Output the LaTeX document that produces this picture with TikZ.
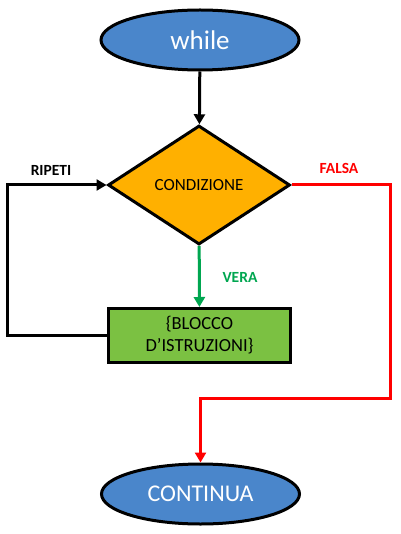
\documentclass[tikz,border=0pt]{standalone}
\usepackage{fontspec}
\setmainfont{Carlito}
\usepackage{xcolor}
\usetikzlibrary{shapes.geometric, arrows.meta, positioning}

\definecolor{termblue}{HTML}{4A86CB}
\definecolor{condorange}{HTML}{FFB000}
\definecolor{blockgreen}{HTML}{7BC142}
\definecolor{veragreen}{HTML}{00A650}
\definecolor{falsared}{HTML}{FF0000}

\tikzset{
  terminal/.style={ellipse, draw=black, line width=3pt, fill=termblue,
    text=white, minimum width=198pt, minimum height=60pt, inner sep=0pt},
  decision/.style={diamond, draw=black, line width=3pt, fill=condorange,
    minimum width=182pt, minimum height=119pt, inner sep=0pt, font=\fontsize{17}{20}\selectfont},
  blockbox/.style={rectangle, draw=black, line width=3pt, fill=blockgreen,
    minimum width=182pt, minimum height=54pt, align=center,
    font=\fontsize{18.5}{22}\selectfont},
  flow/.style={line width=3pt, -{Triangle[length=10pt,width=11pt]}},
  tag/.style={font=\bfseries\fontsize{15.5}{18}\selectfont}
}

\begin{document}
\begin{tikzpicture}[x=1pt, y=-1pt]
\useasboundingbox (0,0) rectangle (400,534);
% Nodes
\node[terminal, font=\fontsize{27}{32}\selectfont] (while) at (200,40) {while};
\node[decision] (cond) at (199,185) {CONDIZIONE};
\node[blockbox] (block) at (199.5,335.5) {\{BLOCCO\\D’ISTRUZIONI\}};
\node[terminal, font=\fontsize{24}{28}\selectfont] (cont) at (200.5,494) {CONTINUA};
% Bend points
\coordinate (loopA) at (7,335.5);
\coordinate (loopB) at (7,185);
\coordinate (falseA) at (390,185);
\coordinate (falseB) at (390,398);
\coordinate (falseC) at (200.5,398);
% Connectors
\draw[flow] (while) -- (cond);
\draw[flow, veragreen] (cond) -- (block);
\draw[flow, line join=miter] (block.west) -- (loopA) -- (loopB) -- (cond.west);
\draw[flow, falsared, line join=miter] (cond.east) -- (falseA) -- (falseB) -- (falseC) -- (cont);
% Labels
\node[tag] (ripeti) at (51,170) {RIPETI};
\node[tag, text=falsared] (falsa) at (339,168) {FALSA};
\node[tag, text=veragreen] (vera) at (240,277) {VERA};
\end{tikzpicture}
\end{document}
